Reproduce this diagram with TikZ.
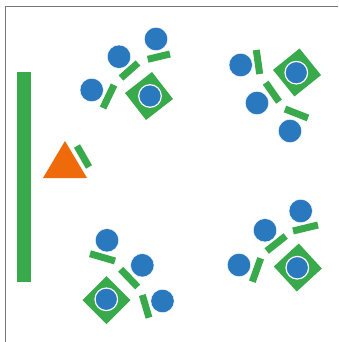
\documentclass[tikz,border=0pt]{standalone}
\usepackage{tikz}
\definecolor{gr}{HTML}{39AA4B}
\definecolor{bl}{HTML}{2A79BE}
\definecolor{orng}{HTML}{EE6A0B}
\definecolor{frm}{HTML}{777777}
\tikzset{
  bar/.style={draw=gr, line width=7pt, line cap=butt},
  ball/.style={fill=bl, draw=white, line width=0.4pt},
  inball/.style={fill=bl, draw=white, line width=1.2pt},
  dia/.style={fill=gr}
}
\begin{document}
\begin{tikzpicture}[x=1pt,y=-1pt]
\useasboundingbox (0,0) rectangle (338,342);
\fill[white] (0,0) rectangle (338,342);
% frame
\draw[frm, line width=1.2pt] (5.5,342) -- (5.5,6.5) -- (338,6.5);
% wall
\fill[gr] (17,72) rectangle (31,282);
% triangle
\fill[orng] (43,178) -- (87,178) -- (65,141) -- cycle;
\draw[bar] (77,146) -- (89,167);
% top-left cluster
\fill[dia] (152,72) -- (125,93) -- (146,120) -- (173,99) -- cycle;
\draw[ball] (91.7,90) circle (11.7);
\draw[ball] (119,56.7) circle (11.7);
\draw[ball] (156,39) circle (11.7);
\draw[inball] (150,96) circle (11.3);
\draw[bar] (114,85) -- (103,108);
\draw[bar] (138,63) -- (121,78);
\draw[bar] (147.7,59.3) -- (170,54);
% top-right cluster
\fill[dia] (299.6,48.5) -- (273,69.9) -- (294.4,96.5) -- (321,75.1) -- cycle;
\draw[ball] (240.7,65) circle (11.7);
\draw[ball] (257,103) circle (11.7);
\draw[ball] (290,131) circle (11.7);
\draw[inball] (296.3,72.7) circle (11.3);
\draw[bar] (256.3,50) -- (259.7,74);
\draw[bar] (265.7,82.7) -- (279,101.7);
\draw[bar] (285,109) -- (308,118);
% bottom-left cluster
\fill[dia] (106.5,276) -- (82.5,300) -- (106.5,324) -- (130.5,300) -- cycle;
\draw[ball] (107,240.3) circle (11.7);
\draw[ball] (142.3,265.3) circle (11.7);
\draw[ball] (162.5,301) circle (11.7);
\draw[inball] (106.3,299.3) circle (11.3);
\draw[bar] (90,253.7) -- (115,261);
\draw[bar] (120.7,269.3) -- (137.7,287);
\draw[bar] (142.3,295) -- (149,317.7);
% bottom-right cluster
\fill[dia] (298.8,243.5) -- (273.8,266.5) -- (296.8,291.5) -- (321.8,268.5) -- cycle;
\draw[ball] (239,265) circle (11.7);
\draw[ball] (265,230.3) circle (11.7);
\draw[ball] (300.7,211) circle (11.7);
\draw[inball] (297.3,267.7) circle (11.3);
\draw[bar] (260.7,258.3) -- (252.3,281.7);
\draw[bar] (285.7,236) -- (266.7,251);
\draw[bar] (293,231) -- (318,225);
\end{tikzpicture}
\end{document}
